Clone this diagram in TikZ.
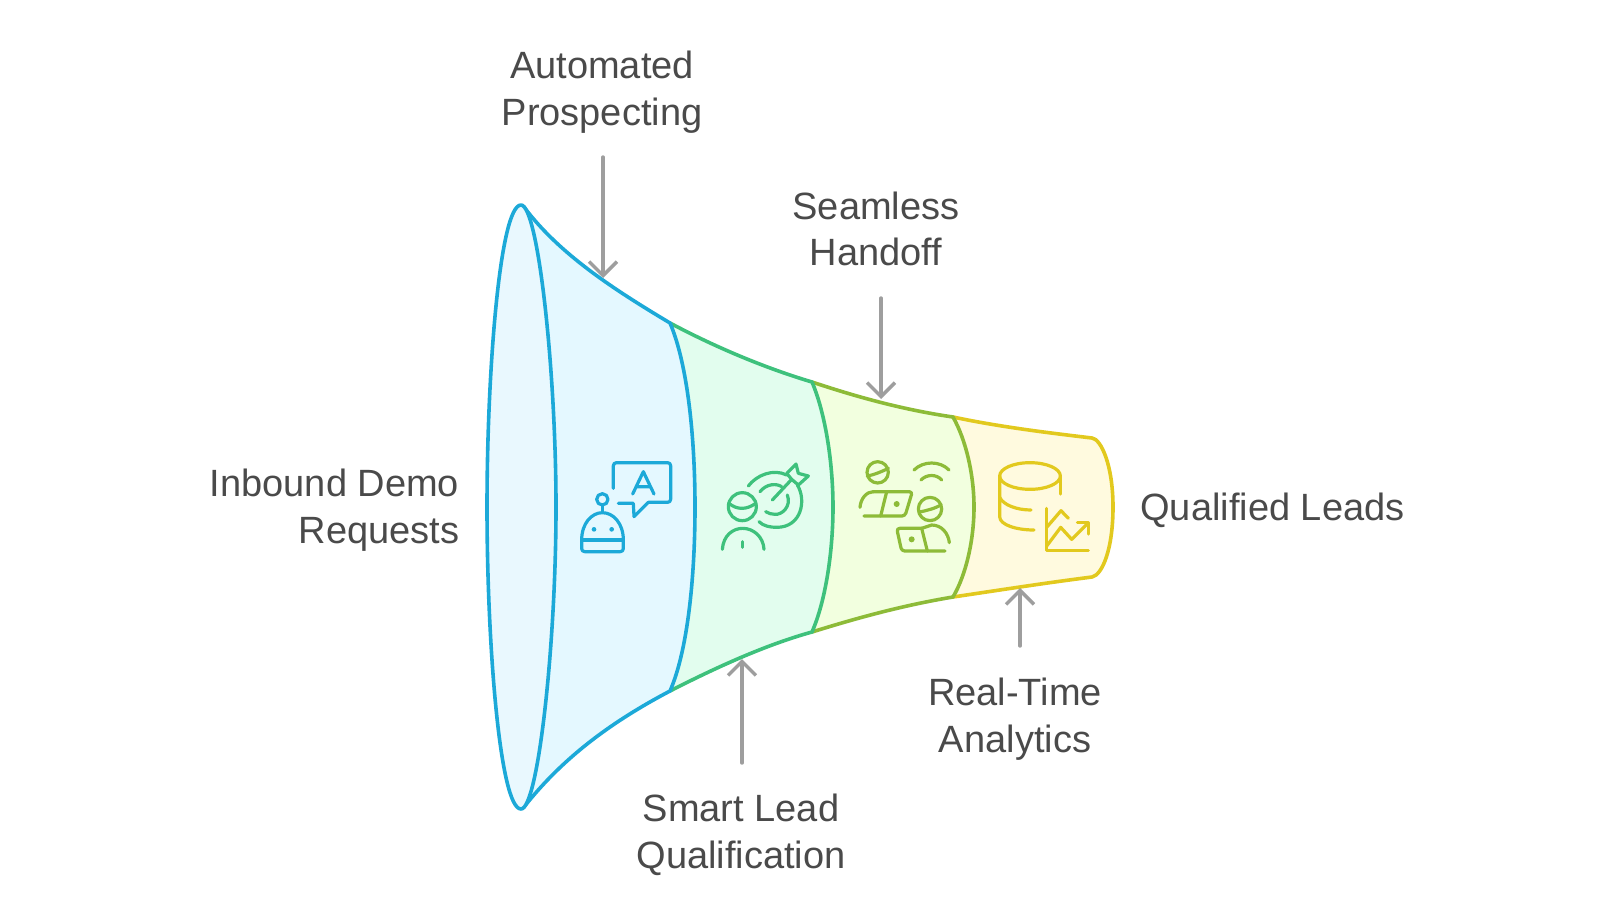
\documentclass[tikz,border=0pt]{standalone}
\usepackage{fontspec}
\setmainfont{Liberation Sans}
\usepackage{tikz}
\usetikzlibrary{arrows.meta}
\definecolor{cblu}{HTML}{1CA9D8}
\definecolor{cgrn}{HTML}{3EC17C}
\definecolor{coli}{HTML}{8DBB38}
\definecolor{cyel}{HTML}{E2C91E}
\definecolor{ctxt}{HTML}{4A4A4A}
\definecolor{fblu}{HTML}{E4F8FF}
\definecolor{fell}{HTML}{E9F8FE}
\definecolor{fgrn}{HTML}{E2FDEE}
\definecolor{foli}{HTML}{F2FFDF}
\definecolor{fyel}{HTML}{FFFADF}
\tikzset{
  lbl/.style={align=center, inner sep=0pt, text=ctxt, font=\fontsize{19}{23.2}\selectfont},
  arr/.style={draw=black!38, line width=1.7pt, line cap=round, -{Straight Barb[length=7pt, width=14pt, line width=1.7pt]}},
  sec/.style={line width=1.8pt, line join=round},
  ico/.style={line width=1.6pt, line cap=round, line join=round},
  zoomed/.style={x=0.16667pt, y=-0.16667pt},
}

\begin{document}
\begin{tikzpicture}[x=0.5pt, y=-0.5pt]
  \useasboundingbox (0,0) rectangle (1600,900);
  % funnel, back to front
  \draw[sec, draw=cyel, fill=fyel] (953,417) .. controls (1000,427) and (1050,433) .. (1092,438)
    .. controls (1101,439) and (1113,465) .. (1113,507) .. controls (1113,550) and (1102,575) .. (1092,577)
    .. controls (1045,583) and (1000,590) .. (953,597) -- cycle;
  \draw[sec, draw=coli, fill=foli] (812,382) .. controls (860,398) and (905,410) .. (953,417)
    .. controls (966,440) and (974,475) .. (974,507) .. controls (974,540) and (966,575) .. (953,597)
    .. controls (905,605) and (860,617) .. (812,632) -- cycle;
  \draw[sec, draw=cgrn, fill=fgrn] (670,323) .. controls (715,347) and (765,368) .. (812,382)
    .. controls (826,415) and (833,465) .. (833,507) .. controls (833,550) and (826,600) .. (812,632)
    .. controls (765,645) and (715,668) .. (670,691) -- cycle;
  \draw[sec, draw=cblu, fill=fblu] (524,207) .. controls (560,255) and (615,290) .. (670,323)
    .. controls (688,365) and (695,440) .. (695,507) .. controls (695,575) and (688,650) .. (670,691)
    .. controls (615,720) and (565,755) .. (524,807) -- cycle;
  \draw[sec, draw=cblu, fill=fell] (521,205) .. controls (500,205) and (487,370) .. (487,507)
    .. controls (487,645) and (500,809) .. (521,809) .. controls (538,809) and (556,645) .. (556,507)
    .. controls (556,370) and (538,205) .. (521,205) -- cycle;

  % robot and speech bubble
  \begin{scope}[shift={(560,440)}, zoomed, ico, draw=cblu]
    \draw (127,178) circle[radius=17];
    \draw (127,195) -- (127,215);
    \draw (65,300) .. controls (65,250) and (95,218) .. (127,218) .. controls (160,218) and (190,250) .. (190,300);
    \draw[rounded corners=1.5pt] (65,300) -- (65,335) -- (190,335) -- (190,300);
    \draw (65,300) -- (190,300);
    \fill[cblu] (102,268) circle[radius=7] (155,268) circle[radius=7];
    \draw[rounded corners=1.5pt] (160,145) -- (160,68) -- (332,68) -- (332,187) -- (265,187);
    \draw (265,187) -- (222,230) -- (220,190) -- (175,190);
    \draw (218,162) -- (250,95) -- (282,162) (230,140) -- (270,140);
  \end{scope}

  % person and target
  \begin{scope}[shift={(560,440)}, zoomed, ico, draw=cgrn]
    \draw (547,200) circle[radius=42];
    \draw (507,190) .. controls (530,210) and (560,210) .. (587,190);
    \draw (487,328) .. controls (490,285) and (520,265) .. (548,265) .. controls (580,265) and (610,290) .. (612,328);
    \draw (548,305) -- (548,322);
    \draw (565,138) .. controls (590,105) and (640,85) .. (680,105);
    \draw (712,135) .. controls (740,180) and (725,262) .. (650,262) .. controls (630,262) and (610,258) .. (597,245);
    \draw (600,155) .. controls (620,130) and (650,130) .. (665,140);
    \draw (682,165) .. controls (695,200) and (665,225) .. (645,223) .. controls (635,223) and (625,220) .. (617,215);
    \draw (637,180) -- (695,118);
    \draw (680,100) -- (708,72) -- (715,100) -- (745,108) -- (715,135) -- (695,118) -- cycle;
  \end{scope}

  % two people with laptops
  \begin{scope}[shift={(840,440)}, zoomed, ico, draw=coli]
    \draw (113,97) circle[radius=32];
    \draw (82,108) .. controls (100,105) and (125,95) .. (145,85);
    \draw (60,202) .. controls (62,175) and (80,155) .. (100,155);
    \draw[rounded corners=1.5pt] (100,155) -- (217,155) -- (195,228) -- (72,228);
    \draw (140,155) -- (122,228);
    \fill[coli] (170,192) circle[radius=9];
    \draw (222,90) .. controls (250,62) and (300,62) .. (327,90);
    \draw (243,120) .. controls (260,102) and (290,102) .. (305,120);
    \draw (270,207) circle[radius=35];
    \draw (238,216) .. controls (260,212) and (285,205) .. (303,195);
    \draw[rounded corners=1.5pt] (245,265) -- (170,265) -- (185,333) -- (315,333);
    \draw (245,265) -- (262,333);
    \fill[coli] (215,298) circle[radius=9];
    \draw (245,265) -- (275,255) .. controls (305,255) and (325,280) .. (328,308);
  \end{scope}

  % database and chart
  \begin{scope}[shift={(840,440)}, zoomed, ico, draw=cyel]
    \draw (570,108) ellipse[x radius=91, y radius=40];
    \draw (661,108) -- (661,162);
    \draw (479,108) -- (479,230) .. controls (479,255) and (530,270) .. (582,270);
    \draw (479,172) .. controls (490,195) and (530,210) .. (573,210);
    \draw (620,205) -- (620,332) -- (745,332);
    \draw (620,262) -- (663,212) -- (685,235);
    \draw (620,318) -- (662,262) -- (695,298) -- (745,248);
    \draw (712,248) -- (745,248) -- (745,282);
  \end{scope}

  \node[lbl, align=right] (inbound) [anchor=east] at (459.5,510) {Inbound Demo\\Requests};
  \node[lbl] (auto) at (602,92) {Automated\\Prospecting};
  \node[lbl] (seam) at (876,229) {Seamless\\Handoff};
  \node[lbl] (smart) at (741,835) {Smart Lead\\Qualification};
  \node[lbl] (real) at (1015,719) {Real-Time\\Analytics};
  \node[lbl] (leads) [anchor=west] at (1140,510) {Qualified Leads};

  \coordinate (autos) at (603,157); \coordinate (autoe) at (603,278);
  \coordinate (seams) at (881,298); \coordinate (seame) at (881,399);
  \coordinate (smarts) at (742,763); \coordinate (smarte) at (742,659);
  \coordinate (reals) at (1020,646); \coordinate (reale) at (1020,588);
  \draw[arr] (autos)--(autoe); \draw[arr] (seams)--(seame);
  \draw[arr] (smarts)--(smarte); \draw[arr] (reals)--(reale);
\end{tikzpicture}
\end{document}
